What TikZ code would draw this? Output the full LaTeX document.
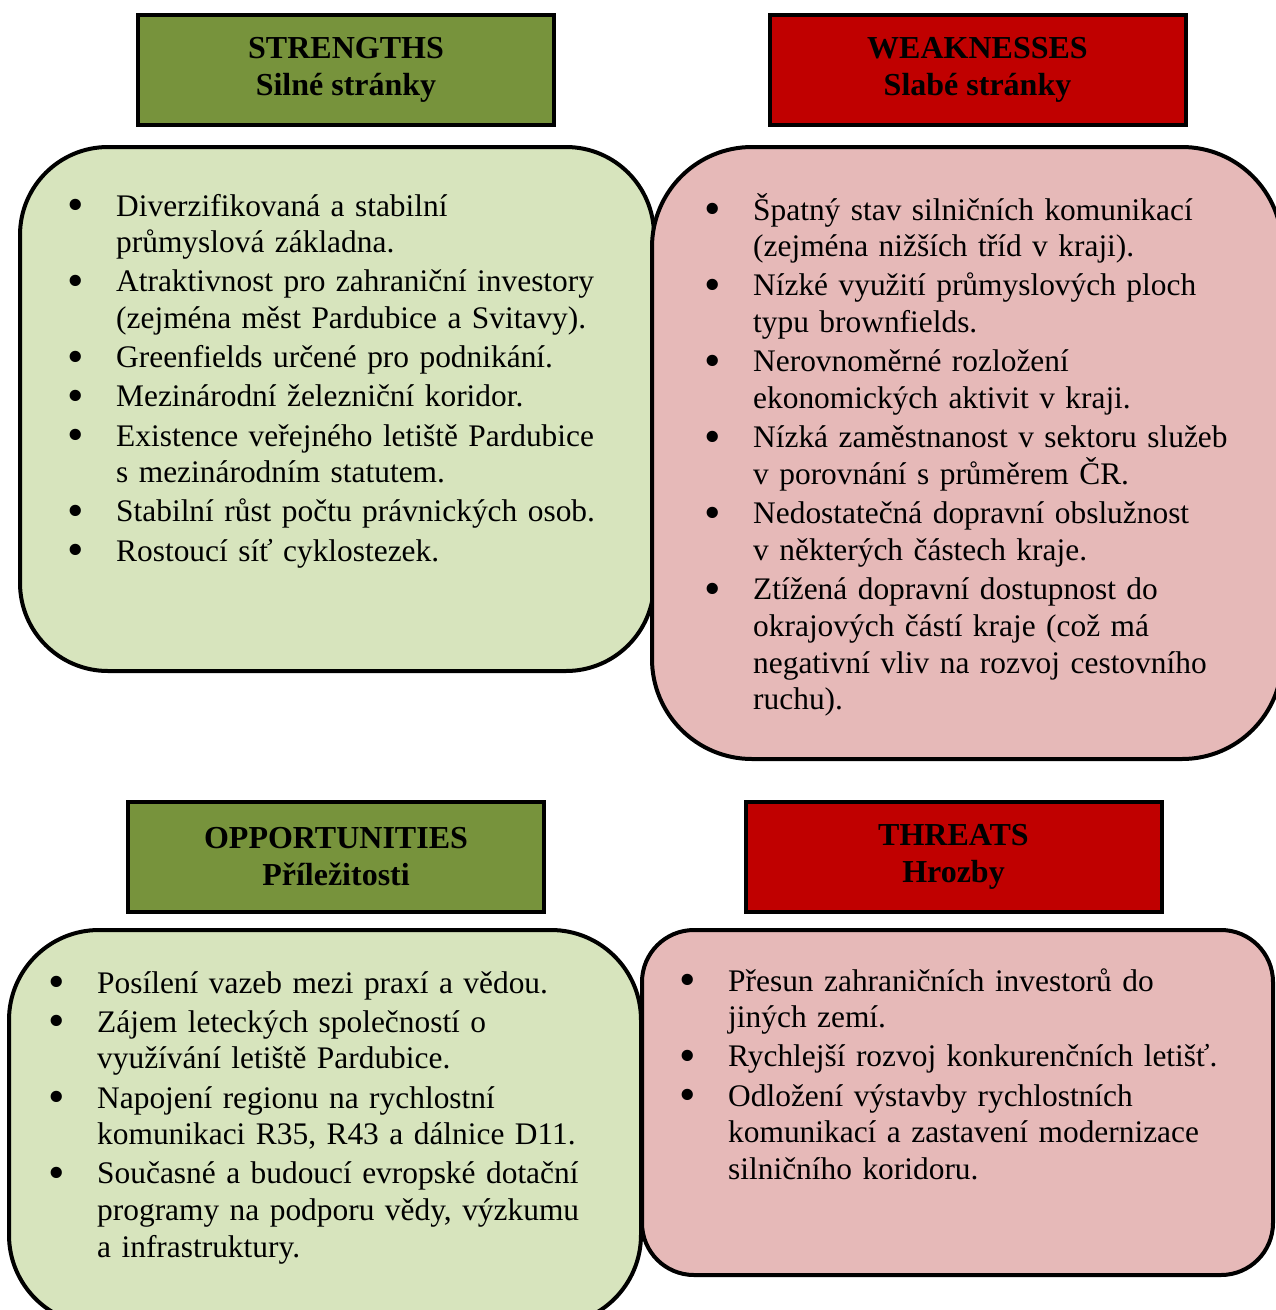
\documentclass[tikz,border=0pt]{standalone}
\usepackage{graphicx}
\usepackage{fontspec}
\setmainfont{Liberation Serif}
\definecolor{hdrgreen}{HTML}{77933C}
\definecolor{hdrred}{HTML}{C00000}
\definecolor{boxgreen}{HTML}{D7E4BD}
\definecolor{boxpink}{HTML}{E6B9B8}
\newcommand\bitem[1]{\ifvmode\noindent\fi\hangindent=49pt\hangafter=1\makebox[49pt][l]{\raisebox{-4.5pt}{\scalebox{1.5}{\textbullet}}}#1\par}
\tikzset{
  hdr/.style={draw=black, line width=4pt, minimum width=416pt, minimum height=110pt,
    inner sep=0pt, align=center, font=\fontsize{32}{37}\selectfont\bfseries},
  panel/.style={draw=black, line width=4pt, inner sep=0pt},
  listtext/.style={anchor=base west, inner sep=0pt, text width=640pt,
    font=\fontsize{31.4}{36.8}\selectfont, execute at begin node={\raggedright\parskip=2.3pt}}
}
\begin{document}
\begin{tikzpicture}[x=1pt,y=-1pt]
\useasboundingbox (0,0) rectangle (1276,1310);
\clip (0,0) rectangle (1276,1310);
\fill[white] (0,0) rectangle (1276,1310);
% headers
\node[hdr, fill=hdrgreen] (sh) at (346,70) {STRENGTHS\\Silné stránky};
\node[hdr, fill=hdrred] (wh) at (977.5,70) {WEAKNESSES\\Slabé stránky};
\node[hdr, fill=hdrgreen] (oh) at (336,856.5) {OPPORTUNITIES\\Příležitosti};
\node[hdr, fill=hdrred] (th) at (953.5,856.5) {THREATS\\Hrozby};
% panels
\node[panel, fill=boxgreen, rounded corners=88pt, minimum width=634pt, minimum height=524pt] (sp) at (337,409) {};
\node[panel, fill=boxpink, rounded corners=100pt, minimum width=630pt, minimum height=612pt] (wp) at (967,453) {};
\node[panel, fill=boxgreen, rounded corners=90pt, minimum width=632pt, minimum height=395pt] (op) at (325,1127.5) {};
\node[panel, fill=boxpink, rounded corners=52pt, minimum width=631pt, minimum height=345pt] (tp) at (957.5,1102.5) {};
% texts
\node[listtext] (st) at (67,216) {%
\bitem{Diverzifikovaná a stabilní\newline průmyslová základna.}%
\bitem{Atraktivnost pro zahraniční investory\newline (zejména měst Pardubice a Svitavy).}%
\bitem{Greenfields určené pro podnikání.}%
\bitem{Mezinárodní železniční koridor.}%
\bitem{Existence veřejného letiště Pardubice\newline s mezinárodním statutem.}%
\bitem{Stabilní růst počtu právnických osob.}%
\bitem{Rostoucí síť cyklostezek.}};
\node[listtext] (wt) at (704,220) {%
\bitem{Špatný stav silničních komunikací\newline (zejména nižších tříd v kraji).}%
\bitem{Nízké využití průmyslových ploch\newline typu brownfields.}%
\bitem{Nerovnoměrné rozložení\newline ekonomických aktivit v kraji.}%
\bitem{Nízká zaměstnanost v sektoru služeb\newline v porovnání s průměrem ČR.}%
\bitem{Nedostatečná dopravní obslužnost\newline v některých částech kraje.}%
\bitem{Ztížená dopravní dostupnost do\newline okrajových částí kraje (což má\newline negativní vliv na rozvoj cestovního\newline ruchu).}};
\node[listtext] (ot) at (48,993) {%
\bitem{Posílení vazeb mezi praxí a vědou.}%
\bitem{Zájem leteckých společností o\newline využívání letiště Pardubice.}%
\bitem{Napojení regionu na rychlostní\newline komunikaci R35, R43 a dálnice D11.}%
\bitem{Současné a budoucí evropské dotační\newline programy na podporu vědy, výzkumu\newline a infrastruktury.}};
\node[listtext] (tt) at (679,991) {%
\bitem{Přesun zahraničních investorů do\newline jiných zemí.}%
\bitem{Rychlejší rozvoj konkurenčních letišť.}%
\bitem{Odložení výstavby rychlostních\newline komunikací a zastavení modernizace\newline silničního koridoru.}};
\end{tikzpicture}
\end{document}
